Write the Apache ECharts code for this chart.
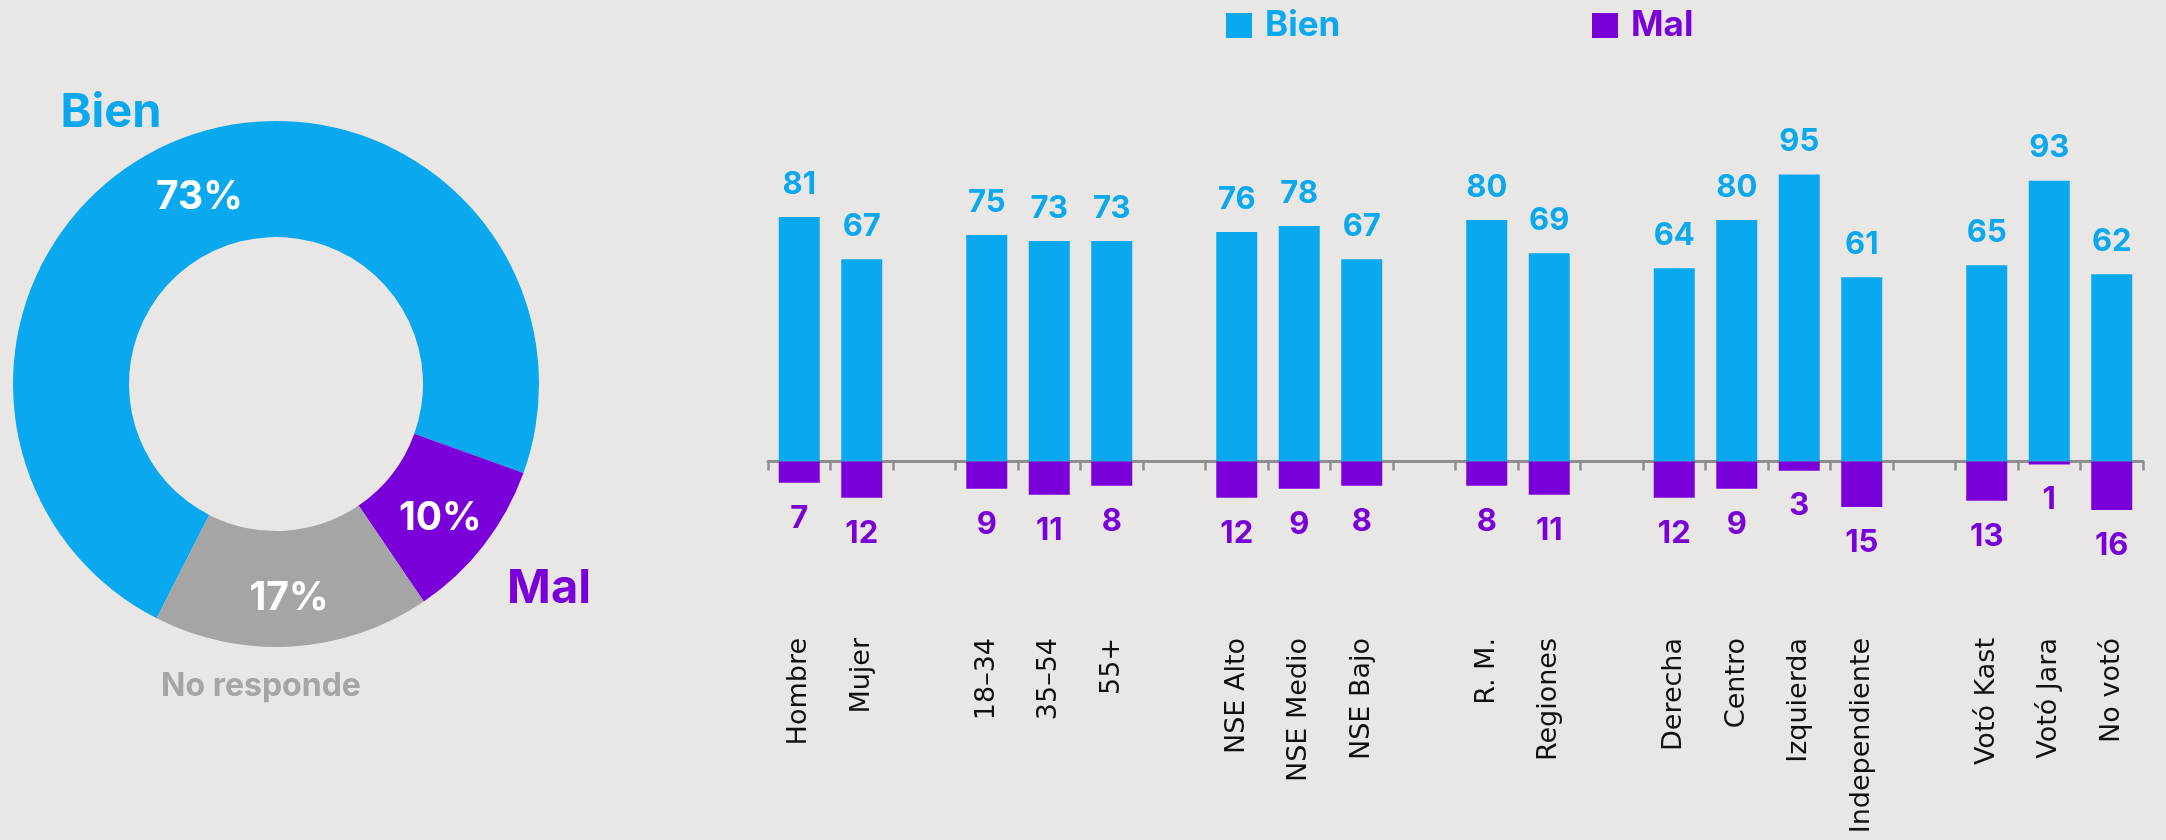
<!DOCTYPE html>
<html>
<head>
<meta charset="utf-8">
<script src="https://cdn.jsdelivr.net/npm/echarts@6/dist/echarts.min.js"></script>
<style>
  html, body { margin: 0; padding: 0; background: #E8E7E5; }
  #chart { width: 2166px; height: 840px; }
</style>
</head>
<body>
<div id="chart"></div>
<script>
// ---- data ----
const categories = ['Hombre', 'Mujer', '', '18–34', '35–54', '55+', '', 'NSE Alto', 'NSE Medio', 'NSE Bajo', '', 'R. M.', 'Regiones', '', 'Derecha', 'Centro', 'Izquierda', 'Independiente', '', 'Votó Kast', 'Votó Jara', 'No votó'];
const bienValues = [81, 67, null, 75, 73, 73, null, 76, 78, 67, null, 80, 69, null, 64, 80, 95, 61, null, 65, 93, 62];
const malValues  = [7, 12, null, 9, 11, 8, null, 12, 9, 8, null, 8, 11, null, 12, 9, 3, 15, null, 13, 1, 16];
const donutNames = ['Bien', 'Mal', 'No responde'];
const donutValues = [73, 10, 17];

// ---- styles ----
const BLUE = '#0AA8EE';
const PURPLE = '#7A00D9';
const GRAY = '#A5A5A5';
const AXIS = '#8E8E8E';
const FONT = 'Inter, "Open Sans", sans-serif';
const donutColors = [BLUE, PURPLE, GRAY];
const donutNameStyle = [
  { fontSize: 47, pos: [111, 113] },
  { fontSize: 47, pos: [549, 589] },
  { fontSize: 32, pos: [261, 686] }
];

const chart = echarts.init(document.getElementById('chart'), null, { renderer: 'canvas' });

const legendBase = {
  top: 8,
  itemWidth: 26, itemHeight: 25,
  icon: 'rect',
  selectedMode: false,
  padding: 0,
  textStyle: { fontFamily: FONT, fontWeight: 'bold', fontSize: 35, padding: [0, 0, 0, 8] }
};

const option = {
  backgroundColor: '#E8E7E5',
  animation: false,
  legend: [
    Object.assign({}, legendBase, { left: 1226, data: [{ name: 'Bien', textStyle: { color: BLUE } }] }),
    Object.assign({}, legendBase, { left: 1592, data: [{ name: 'Mal', textStyle: { color: PURPLE } }] })
  ],
  grid: { left: 768, right: 23, top: 159.5, bottom: 318, containLabel: false, outerBoundsMode: 'none' },
  xAxis: {
    type: 'category',
    data: categories,
    boundaryGap: true,
    axisLine: { show: true, onZero: true, lineStyle: { color: AXIS, width: 3 } },
    axisTick: { show: true, length: 9, interval: 0, lineStyle: { color: AXIS, width: 2.5 } },
    axisLabel: {
      interval: 0, rotate: 90, margin: 116,
      color: '#111', fontFamily: '"DejaVu Sans", sans-serif', fontSize: 27
    }
  },
  yAxis: {
    type: 'value', min: -20, max: 100,
    show: false,
    splitLine: { show: false }
  },
  series: [
    {
      name: 'Bien', type: 'bar', stack: 'total',
      data: bienValues,
      barWidth: 41,
      itemStyle: { color: BLUE },
      label: {
        show: true, position: 'top', distance: 17,
        color: BLUE, fontFamily: FONT, fontWeight: 'bold', fontSize: 31
      }
    },
    {
      name: 'Mal', type: 'bar', stack: 'total',
      data: malValues.map(v => v == null ? null : -v),
      barWidth: 41,
      itemStyle: { color: PURPLE },
      label: {
        show: true, position: 'bottom', distance: 20,
        color: PURPLE, fontFamily: FONT, fontWeight: 'bold', fontSize: 31,
        formatter: p => Math.abs(p.value)
      }
    },
    {
      name: 'donut', type: 'pie',
      center: [276, 384], radius: [147, 263],
      startAngle: 243, clockwise: true,
      avoidLabelOverlap: false,
      emphasis: { disabled: true },
      data: donutNames.map((n, i) => ({ name: n, value: donutValues[i], itemStyle: { color: donutColors[i] } })),
      label: {
        show: true, position: 'inside', formatter: '{c}%',
        color: '#FFFFFF', fontFamily: FONT, fontWeight: 'bold', fontSize: 39
      },
      labelLine: { show: false },
      labelLayout: { dy: 7 }
    },
    {
      name: 'donutNames', type: 'pie',
      center: [276, 384], radius: [147, 263],
      startAngle: 243, clockwise: true,
      avoidLabelOverlap: false,
      silent: true,
      legendHoverLink: false,
      data: donutNames.map((n, i) => ({
        name: n, value: donutValues[i],
        itemStyle: { color: 'rgba(0,0,0,0)' },
        label: { color: donutColors[i], fontSize: donutNameStyle[i].fontSize }
      })),
      label: {
        show: true, position: 'outside', formatter: '{b}',
        fontFamily: FONT, fontWeight: 'bold'
      },
      labelLine: { show: false },
      labelLayout: p => ({
        x: donutNameStyle[p.dataIndex].pos[0],
        y: donutNameStyle[p.dataIndex].pos[1],
        align: 'center', verticalAlign: 'middle'
      })
    }
  ]
};
chart.setOption(option);
</script>
</body>
</html>
